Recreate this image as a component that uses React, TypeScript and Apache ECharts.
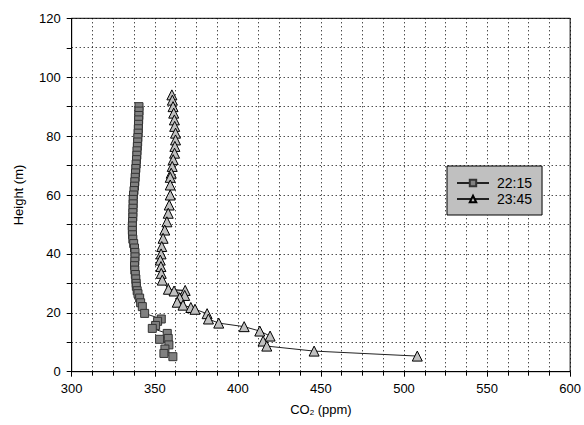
import React, { useEffect, useRef } from "react";
import * as echarts from "echarts";

// Series 22:15 (squares): CO2 (ppm) and height (m)
const heights2215 = [
  90, 88.5, 87, 85.5, 84, 82.5, 81, 79.5, 78, 76.5, 75, 73.5, 72, 70.5, 69, 67.5, 66, 64.5, 63, 61.5,
  60, 58.5, 57, 55.5, 54, 52.5, 51, 49.5, 48, 46.5, 45, 43.5, 42, 40.5, 39, 37.5, 36, 34.5, 33, 31.5,
  30, 29, 27.5, 26.5, 25, 23.4, 22.1, 19.8, 17.9, 17.1, 15.7, 14.7, 13.0, 11.3, 11.0, 9.1, 7.7, 6.2, 5.1,
];
const co2_2215 = [
  340.5, 340.5, 340.4, 340.3, 340.2, 340.1, 340.0, 339.8, 339.7, 339.5, 339.3, 339.2, 339.0, 338.8, 338.6, 338.4, 338.2, 338.0, 337.8, 337.5,
  337.2, 337.0, 337.0, 336.9, 336.8, 336.8, 336.6, 336.5, 336.5, 336.6, 336.8, 337.3, 337.8, 338.1, 338.1, 338.0, 337.8, 338.0, 338.3, 338.6,
  338.8, 338.9, 339.4, 339.9, 340.9, 341.5, 342.5, 343.9, 353.9, 351.7, 350.5, 348.5, 357.5, 358.1, 352.9, 358.5, 356.1, 355.5, 360.9,
];

// Series 23:45 (triangles)
const heights2345 = [
  94, 92.2, 90, 87.8, 85.5, 83.3, 81, 78.7, 76.5, 74.2, 72, 69.7, 67.4, 66, 63.4, 60, 56.6, 53.8, 50.9, 48.1,
  45.3, 42.5, 40, 37.9, 35.7, 33.4, 31.1, 28.0, 27.6, 27.4, 25.9, 25.1, 23.6, 22.6, 21.8, 21.2, 19.7, 17.9, 16.5, 15.3,
  13.8, 12.1, 10.4, 8.7, 7.0, 5.3,
];
const co2_2345 = [
  360.3, 360.6, 361.0, 361.4, 361.8, 362.0, 362.5, 362.5, 362.1, 361.9, 361.1, 360.5, 359.9, 359.3, 359.3, 359.3, 358.7, 358.1, 357.3, 356.0,
  355.0, 354.2, 353.8, 353.3, 353.7, 353.9, 354.5, 358.2, 368.3, 361.6, 368.0, 365.0, 363.5, 367.0, 371.7, 374.2, 381.5, 382.3, 388.5, 403.8,
  413.2, 419.4, 415.2, 417.4, 445.9, 508.0,
];

const seriesNames = ["22:15", "23:45"];
const xMin = 300, xMax = 600, xStep = 50, xMinorSplit = 4;
const yMin = 0, yMax = 120, yStep = 20, yMinorSplit = 2;

const FONT = "'Liberation Sans', Arial, sans-serif";

export default function App() {
  const ref = useRef<HTMLDivElement>(null);
  useEffect(() => {
    if (!ref.current) return;
    const chart = echarts.init(ref.current, null, { renderer: "svg" });
    const dotted = { color: "#000", width: 1, type: [1, 3] as any };
    chart.setOption({
      animation: false,
      backgroundColor: "#fff",
      textStyle: { fontFamily: FONT, color: "#000" },
      grid: {
        left: 71.7,
        right: 11,
        top: 18.3,
        bottom: 53.3,
        show: true,
        borderColor: "#000",
        borderWidth: 1,
        backgroundColor: "transparent",
      },
      legend: {
        orient: "vertical",
        left: 447,
        top: 166,
        backgroundColor: "#c0c0c0",
        borderColor: "#000",
        borderWidth: 1,
        borderRadius: 0,
        padding: [10, 10, 9, 9],
        itemGap: 2,
        itemWidth: 32,
        itemHeight: 8,
        textStyle: { fontFamily: FONT, fontSize: 14, color: "#000", padding: [0, 0, 0, 3] },
        data: seriesNames,
      },
      xAxis: {
        type: "value",
        min: xMin,
        max: xMax,
        interval: xStep,
        name: "CO{sub|2} (ppm)",
        nameLocation: "middle",
        nameGap: 30,
        nameTextStyle: {
          fontFamily: FONT,
          fontSize: 13,
          color: "#000",
          rich: {
            sub: { fontFamily: FONT, fontSize: 8, color: "#000", padding: [7, 0, 0, 0] },
          },
        },
        axisLine: { show: true, onZero: false, lineStyle: { color: "#000", width: 1 } },
        axisTick: { show: true, length: 5, lineStyle: { color: "#000" } },
        minorTick: { show: true, splitNumber: xMinorSplit, length: 4, lineStyle: { color: "#000" } },
        axisLabel: { fontFamily: FONT, fontSize: 13, color: "#000", margin: 10 },
        splitLine: { show: true, lineStyle: dotted },
        minorSplitLine: { show: true, lineStyle: dotted },
      },
      yAxis: {
        type: "value",
        min: yMin,
        max: yMax,
        interval: yStep,
        name: "Height (m)",
        nameLocation: "middle",
        nameGap: 47,
        nameTextStyle: { fontFamily: FONT, fontSize: 13, color: "#000" },
        axisLine: { show: true, onZero: false, lineStyle: { color: "#000", width: 1 } },
        axisTick: { show: true, length: 5, lineStyle: { color: "#000" } },
        minorTick: { show: true, splitNumber: yMinorSplit, length: 5, lineStyle: { color: "#000" } },
        axisLabel: { fontFamily: FONT, fontSize: 13, color: "#000", margin: 11 },
        splitLine: { show: true, lineStyle: dotted },
        minorSplitLine: { show: true, lineStyle: dotted },
      },
      series: [
        {
          name: seriesNames[0],
          type: "line",
          data: heights2215.map((h, i) => [co2_2215[i], h]),
          symbol: "rect",
          symbolSize: 8,
          showAllSymbol: true,
          itemStyle: { color: "#808080", borderColor: "#333", borderWidth: 1 },
          lineStyle: { color: "#222", width: 1 },
          z: 3,
        },
        {
          name: seriesNames[1],
          type: "line",
          data: heights2345.map((h, i) => [co2_2345[i], h]),
          symbol: "triangle",
          symbolSize: 10,
          showAllSymbol: true,
          itemStyle: { color: "#c0c0c0", borderColor: "#000", borderWidth: 1 },
          lineStyle: { color: "#222", width: 1 },
          z: 3,
        },
      ],
    });
    return () => chart.dispose();
  }, []);
  return <div ref={ref} style={{ width: 584, height: 425, position: "absolute", left: 0, top: 0 }} />;
}
